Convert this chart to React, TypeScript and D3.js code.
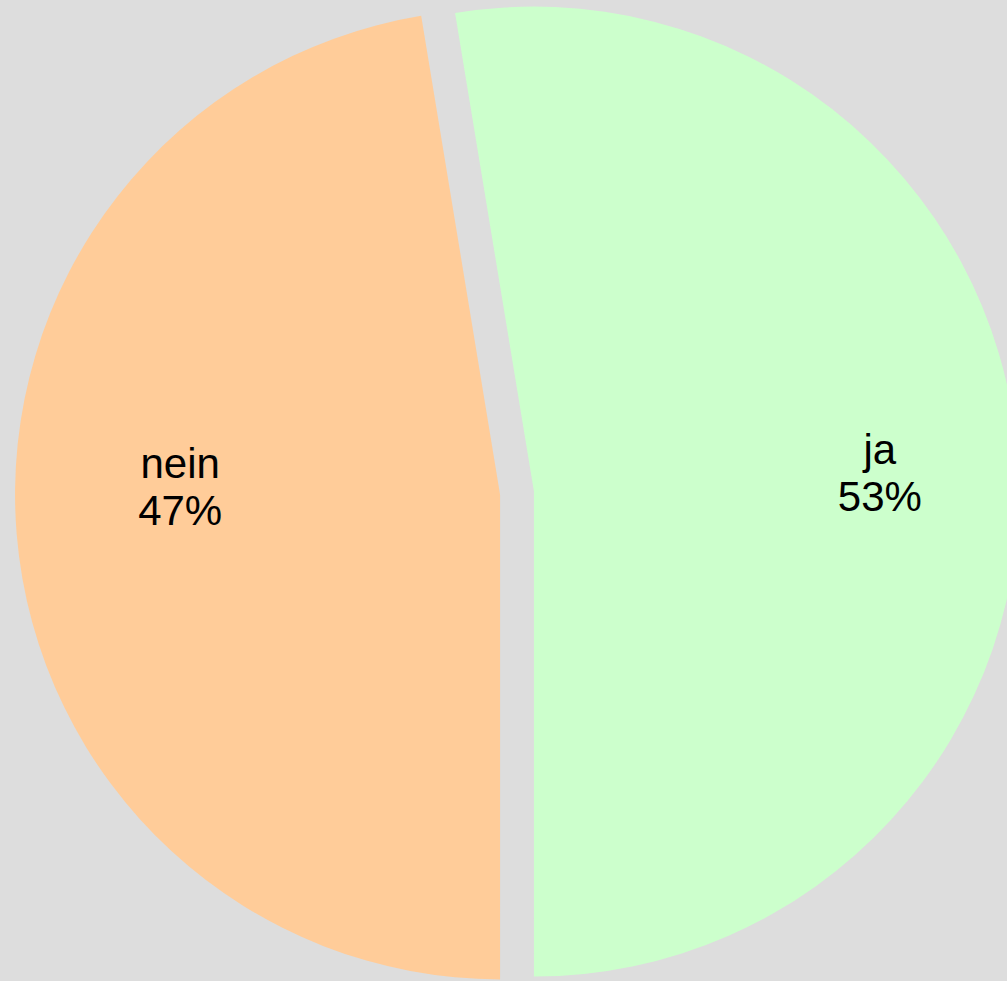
import { useEffect, useRef } from 'react';
import * as d3 from 'd3';

const categories = ['ja', 'nein'];
const shares = [52.6, 47.4];
const percentLabels = ['53%', '47%'];
const colors = ['#ccffcc', '#ffcc99'];

export default function App() {
  const svgRef = useRef<SVGSVGElement>(null);

  useEffect(() => {
    if (!svgRef.current) return;

    const width = 1007;
    const height = 981;
    const cx = 517;
    const cy = 493;
    const radius = 485;
    const explode = 17;
    const labelRadius = 351;

    const svg = d3.select(svgRef.current);
    svg.selectAll('*').remove();

    svg.append('rect')
      .attr('width', width)
      .attr('height', height)
      .attr('fill', '#dddddd');

    const data = categories.map((c, i) => ({ name: c, value: shares[i], label: percentLabels[i], color: colors[i] }));

    // first slice ends at the bottom (angle pi)
    const total = d3.sum(shares);
    const start = Math.PI - (shares[0] / total) * 2 * Math.PI;

    const pie = d3.pie<typeof data[number]>()
      .value(d => d.value)
      .sort(null)
      .startAngle(start)
      .endAngle(start + 2 * Math.PI);

    const arc = d3.arc<d3.PieArcDatum<typeof data[number]>>()
      .innerRadius(0)
      .outerRadius(radius);

    const labelArc = d3.arc<d3.PieArcDatum<typeof data[number]>>()
      .innerRadius(labelRadius)
      .outerRadius(labelRadius);

    const g = svg.append('g').attr('transform', `translate(${cx},${cy})`);

    const slices = pie(data);

    slices.forEach(s => {
      const mid = (s.startAngle + s.endAngle) / 2;
      const dx = explode * Math.sin(mid);
      const dy = -explode * Math.cos(mid);
      g.append('path')
        .attr('transform', `translate(${dx},${dy})`)
        .attr('d', arc(s))
        .attr('fill', s.data.color);
    });

    // labels: horizontal position from the label arc, vertical spread flattened
    slices.forEach(s => {
      const [lx, ly] = labelArc.centroid(s);
      const x = lx + 13;
      const y = -22 + 0.24 * ly;
      const t = g.append('text')
        .attr('text-anchor', 'middle')
        .attr('font-family', '"Liberation Sans", Arial, sans-serif')
        .attr('font-size', 42)
        .attr('fill', '#000');
      t.append('tspan').attr('x', x).attr('y', y).text(s.data.name);
      t.append('tspan').attr('x', x).attr('y', y + 47).text(s.data.label);
    });
  }, []);

  return (
    <svg
      ref={svgRef}
      width={1007}
      height={981}
      style={{ position: 'absolute', left: 0, top: 0, display: 'block' }}
    />
  );
}
